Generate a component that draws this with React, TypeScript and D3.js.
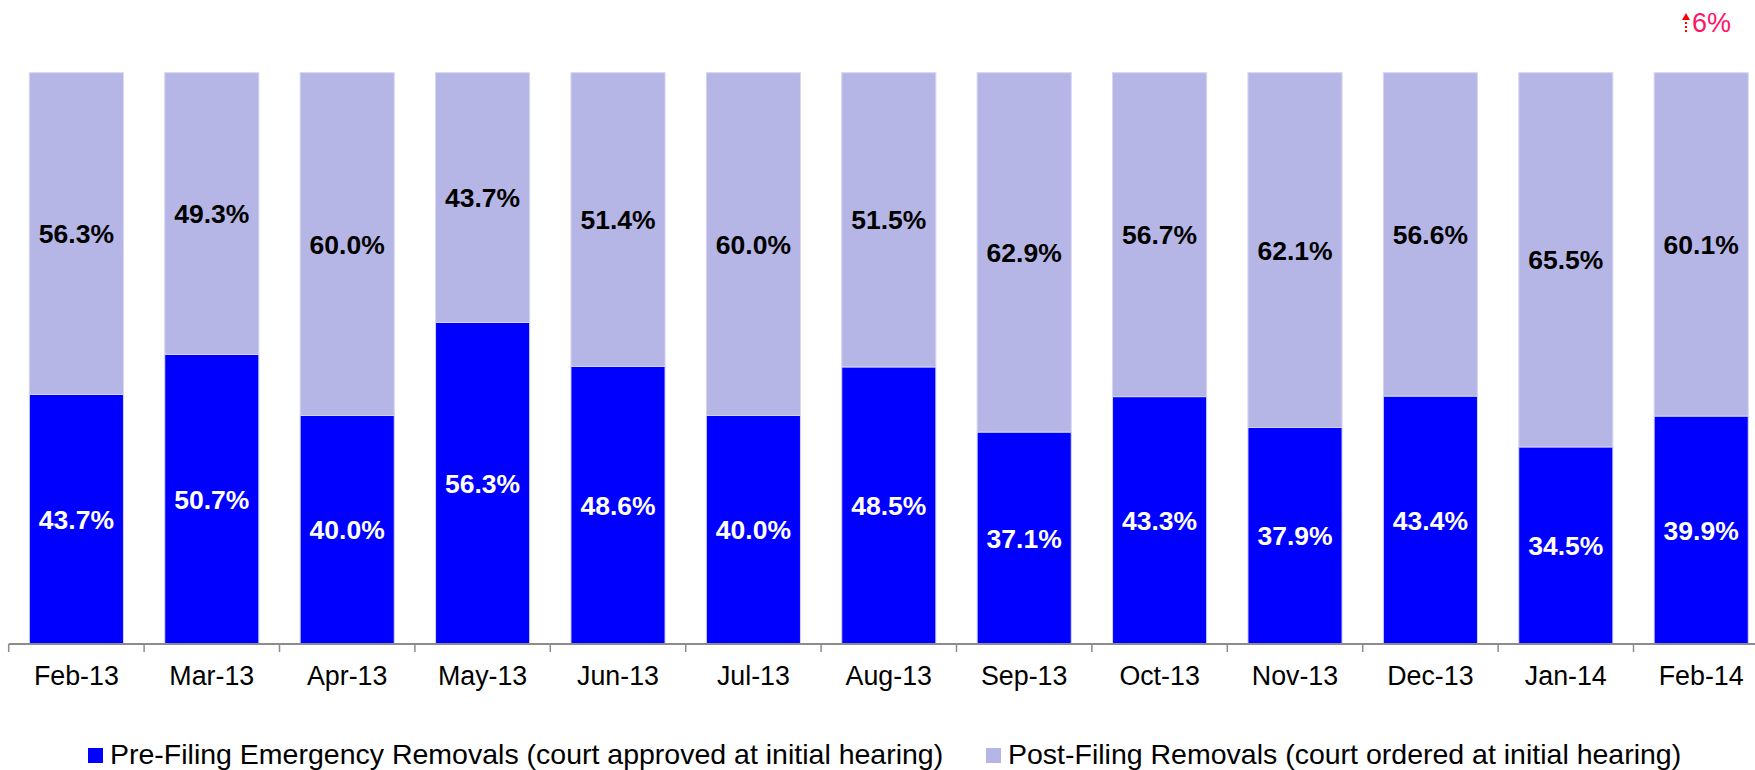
import React from "react";
import * as d3 from "d3";

const months = ["Feb-13", "Mar-13", "Apr-13", "May-13", "Jun-13", "Jul-13", "Aug-13", "Sep-13", "Oct-13", "Nov-13", "Dec-13", "Jan-14", "Feb-14"];
const preFiling = [43.7, 50.7, 40.0, 56.3, 48.6, 40.0, 48.5, 37.1, 43.3, 37.9, 43.4, 34.5, 39.9];
const postFiling = [56.3, 49.3, 60.0, 43.7, 51.4, 60.0, 51.5, 62.9, 56.7, 62.1, 56.6, 65.5, 60.1];
const seriesNames = [
  "Pre-Filing Emergency Removals (court approved at initial hearing)",
  "Post-Filing Removals (court ordered at initial hearing)",
];
const changeNote = "6%";

const W = 1755;
const H = 770;
const FONT = "'Liberation Sans', Arial, sans-serif";
const colors = ["#0000ff", "#b6b6e6"];

const App = () => {
  const step = 135.4;
  const x0 = 8.7;
  const x = d3
    .scaleBand()
    .domain(months)
    .range([x0, x0 + step * months.length])
    .paddingInner(0.305)
    .paddingOuter(0.1525);
  const y = d3.scaleLinear().domain([0, 100]).range([644, 72.7]);

  const rows = months.map((m, i) => ({ month: m, pre: preFiling[i], post: postFiling[i] }));
  const stack = d3.stack().keys(["pre", "post"])(rows as any);
  const fmt = d3.format(".1f");

  // ticks sit on the band boundaries
  const ticks = d3.range(months.length + 1).map(i => x0 + i * x.step());

  return (
    <svg width={W} height={H} style={{ position: "absolute", left: 0, top: 0 }} fontFamily={FONT}>
      {stack.map((layer, li) => (
        <g key={li}>
          {layer.map((d, i) => (
            <rect
              key={i}
              x={x(months[i])}
              y={y(d[1])}
              width={x.bandwidth()}
              height={y(d[0]) - y(d[1])}
              fill={colors[li]}
              stroke="#d4d4f4"
              strokeWidth={1}
            />
          ))}
          {layer.map((d, i) => (
            <text
              key={"t" + i}
              x={(x(months[i]) as number) + x.bandwidth() / 2}
              y={(y(d[0]) + y(d[1])) / 2}
              dy="0.36em"
              textAnchor="middle"
              fontSize={26.5}
              fontWeight="bold"
              fill={li === 0 ? "#ffffff" : "#000000"}
            >
              {fmt(li === 0 ? preFiling[i] : postFiling[i])}%
            </text>
          ))}
        </g>
      ))}

      <line x1={x0} x2={W} y1={644} y2={644} stroke="#8c8c8c" strokeWidth={2} />
      {ticks.map((t, i) => (
        <line key={i} x1={t} x2={t} y1={644} y2={652} stroke="#8c8c8c" strokeWidth={1.5} />
      ))}
      {months.map(m => (
        <text key={m} x={(x(m) as number) + x.bandwidth() / 2} y={685} textAnchor="middle" fontSize={26.8} fill="#000">
          {m}
        </text>
      ))}

      {/* legend */}
      <rect x={88} y={748} width={15} height={15} fill={colors[0]} />
      <text x={110} y={764} fontSize={28.5} fill="#000">{seriesNames[0]}</text>
      <rect x={986} y={748} width={15} height={15} fill={colors[1]} />
      <text x={1008} y={764} fontSize={28.5} fill="#000">{seriesNames[1]}</text>

      {/* change note */}
      <line x1={1686} x2={1686} y1={32} y2={19} stroke="#ff0000" strokeWidth={2} strokeDasharray="2,2" />
      <path d="M1682,20 L1686,13 L1690,20 Z" fill="#ff0000" />
      <text x={1692} y={32} fontSize={27} fill="#ff1466">{changeNote}</text>
    </svg>
  );
};

export default App;
